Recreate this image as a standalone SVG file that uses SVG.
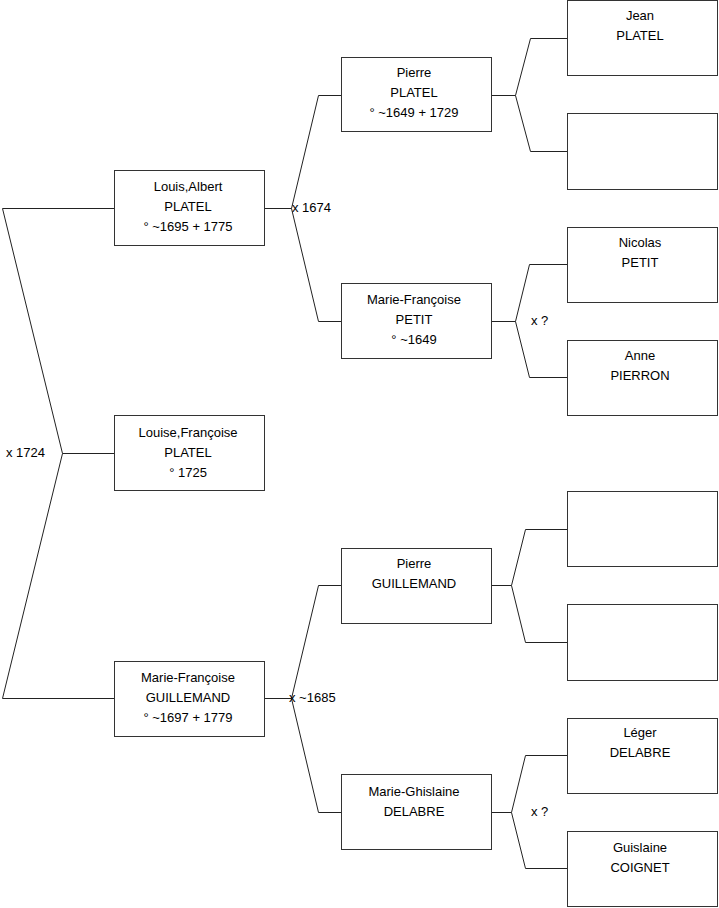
<svg xmlns="http://www.w3.org/2000/svg" width="719" height="908" viewBox="0 0 719 908">
<style>
.box{fill:#fff;stroke:#333;stroke-width:1}
.ln{fill:none;stroke:#222;stroke-width:1}
text{font-family:"Liberation Sans",Arial,sans-serif;font-size:13px;fill:#000}
.c{text-anchor:middle}
</style>
<rect width="719" height="908" fill="#fff"/>
<g id="connectors">
<polyline class="ln" points="114,208.5 2.5,208.5 62.5,453.5 2.5,698.5 114,698.5"/>
<line class="ln" x1="62.5" y1="453.5" x2="114" y2="453.5"/>
<polyline class="ln" points="341,95.5 318.5,95.5 291.5,208.5 318.5,321.5 341,321.5"/>
<line class="ln" x1="265" y1="208.5" x2="291.5" y2="208.5"/>
<polyline class="ln" points="341,585.5 318.5,585.5 291.5,698.5 318.5,812.5 341,812.5"/>
<line class="ln" x1="265" y1="698.5" x2="291.5" y2="698.5"/>
<polyline class="ln" points="567,38.5 530.5,38.5 515.5,95.5 530.5,151.5 567,151.5"/>
<line class="ln" x1="492" y1="95.5" x2="515.5" y2="95.5"/>
<polyline class="ln" points="567,264.5 529.5,264.5 515.5,321.5 529.5,377.5 567,377.5"/>
<line class="ln" x1="492" y1="321.5" x2="515.5" y2="321.5"/>
<polyline class="ln" points="567,529.5 525.5,529.5 511.5,585.5 525.5,642.5 567,642.5"/>
<line class="ln" x1="492" y1="585.5" x2="511.5" y2="585.5"/>
<polyline class="ln" points="567,755.5 525.5,755.5 511.5,812.5 525.5,868.5 567,868.5"/>
<line class="ln" x1="492" y1="812.5" x2="511.5" y2="812.5"/>
<text x="6" y="457">x 1724</text>
<text x="292" y="212">x 1674</text>
<text x="289" y="702">x ~1685</text>
<text x="531" y="325">x ?</text>
<text x="531" y="816">x ?</text>
</g>
<g id="louis-albert-platel">
<rect class="box" x="114.5" y="170.5" width="150" height="75"/>
<text class="c" x="188" y="191">Louis,Albert</text>
<text class="c" x="188" y="211">PLATEL</text>
<text class="c" x="188" y="231">° ~1695 + 1775</text>
</g>
<g id="louise-francoise-platel">
<rect class="box" x="114.5" y="415.5" width="150" height="75"/>
<text class="c" x="188" y="437">Louise,Françoise</text>
<text class="c" x="188" y="457">PLATEL</text>
<text class="c" x="188" y="477">° 1725</text>
</g>
<g id="marie-francoise-guillemand">
<rect class="box" x="114.5" y="661.5" width="150" height="75"/>
<text class="c" x="188" y="682">Marie-Françoise</text>
<text class="c" x="188" y="702">GUILLEMAND</text>
<text class="c" x="188" y="722">° ~1697 + 1779</text>
</g>
<g id="pierre-platel">
<rect class="box" x="341.5" y="57.5" width="150" height="74"/>
<text class="c" x="414" y="77">Pierre</text>
<text class="c" x="414" y="97">PLATEL</text>
<text class="c" x="414" y="117">° ~1649 + 1729</text>
</g>
<g id="marie-francoise-petit">
<rect class="box" x="341.5" y="283.5" width="150" height="75"/>
<text class="c" x="414" y="304">Marie-Françoise</text>
<text class="c" x="414" y="324">PETIT</text>
<text class="c" x="414" y="344">° ~1649</text>
</g>
<g id="pierre-guillemand">
<rect class="box" x="341.5" y="548.5" width="150" height="75"/>
<text class="c" x="414" y="568">Pierre</text>
<text class="c" x="414" y="588">GUILLEMAND</text>
</g>
<g id="marie-ghislaine-delabre">
<rect class="box" x="341.5" y="774.5" width="150" height="75"/>
<text class="c" x="414" y="796">Marie-Ghislaine</text>
<text class="c" x="414" y="816">DELABRE</text>
</g>
<g id="jean-platel">
<rect class="box" x="567.5" y="0.5" width="150" height="75"/>
<text class="c" x="640" y="20">Jean</text>
<text class="c" x="640" y="40">PLATEL</text>
</g>
<g id="unknown-1">
<rect class="box" x="567.5" y="113.5" width="150" height="76"/>
</g>
<g id="nicolas-petit">
<rect class="box" x="567.5" y="227.5" width="150" height="75"/>
<text class="c" x="640" y="247">Nicolas</text>
<text class="c" x="640" y="267">PETIT</text>
</g>
<g id="anne-pierron">
<rect class="box" x="567.5" y="340.5" width="150" height="75"/>
<text class="c" x="640" y="360">Anne</text>
<text class="c" x="640" y="380">PIERRON</text>
</g>
<g id="unknown-2">
<rect class="box" x="567.5" y="491.5" width="150" height="75"/>
</g>
<g id="unknown-3">
<rect class="box" x="567.5" y="604.5" width="150" height="76"/>
</g>
<g id="leger-delabre">
<rect class="box" x="567.5" y="718.5" width="150" height="75"/>
<text class="c" x="640" y="737">Léger</text>
<text class="c" x="640" y="757">DELABRE</text>
</g>
<g id="guislaine-coignet">
<rect class="box" x="567.5" y="831.5" width="150" height="75"/>
<text class="c" x="640" y="852">Guislaine</text>
<text class="c" x="640" y="872">COIGNET</text>
</g>
</svg>
